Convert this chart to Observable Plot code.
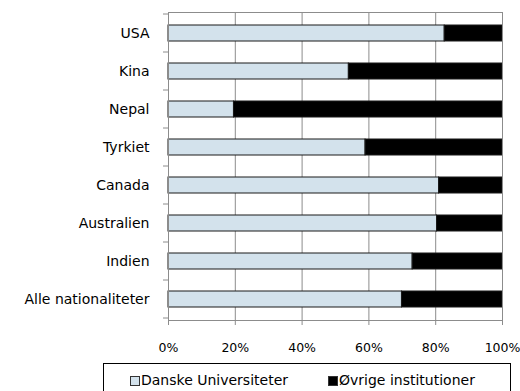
<!DOCTYPE html>
<html>
<head>
<meta charset="utf-8">
<script src="https://cdn.jsdelivr.net/npm/d3@7"></script>
<script src="https://cdn.jsdelivr.net/npm/@observablehq/plot@0.6"></script>
<style>
  body { margin: 0; background: #fff; font-family: "DejaVu Sans", sans-serif; }
  #wrap { position: relative; width: 520px; height: 391px; overflow: hidden; }
  #chart svg { display: block; }
  #legend { position: absolute; left: 103px; top: 363px; width: 408px; height: 40px;
            border: 1px solid #000; box-sizing: border-box; }
  #legend .sw { position: absolute; top: 12px; width: 8px; height: 8px; border: 1px solid #333; }
  #legend .lt { position: absolute; top: 8px; font-size: 14px; line-height: 16px; color: #000; white-space: nowrap; }
</style>
</head>
<body>
<div id="wrap">
  <div id="chart"></div>
  <div id="legend"></div>
</div>
<script>
const categories = ["USA", "Kina", "Nepal", "Tyrkiet", "Canada", "Australien", "Indien", "Alle nationaliteter"];
const danske = [82.7, 54, 19.6, 59, 81, 80.4, 73.1, 69.9];
const ovrige = [17.3, 46, 80.4, 41, 19, 19.6, 26.9, 30.1];
const seriesNames = ["Danske Universiteter", "Øvrige institutioner"];
const seriesColors = ["#D3E2EC", "#000000"];
const xTicks = [0, 20, 40, 60, 80, 100];

const rows = [];
categories.forEach((c, i) => {
  rows.push({cat: c, series: seriesNames[0], value: danske[i]});
  rows.push({cat: c, series: seriesNames[1], value: ovrige[i]});
});

const axisGray = "#8c8c8c";

function catTicks(index, scales, values, dims) {
  const y = scales.y;
  const n = categories.length;
  const top = dims.marginTop, bottom = dims.height - dims.marginBottom;
  const step = typeof y.step === "function" ? y.step() : (bottom - top) / n;
  const bw = typeof y.bandwidth === "function" ? y.bandwidth() : 0;
  const g = d3.create("svg:g").attr("stroke", axisGray).attr("stroke-width", 1);
  const ys = categories.map(c => y(c) + bw / 2 - step / 2);
  ys.push(y(categories[n - 1]) + bw / 2 + step / 2);
  for (const v of ys) {
    g.append("line")
      .attr("x1", dims.marginLeft - 5).attr("x2", dims.marginLeft)
      .attr("y1", v).attr("y2", v);
  }
  return g.node();
}

const plot = Plot.plot({
  width: 520,
  height: 360,
  marginTop: 12,
  marginLeft: 168,
  marginRight: 18,
  marginBottom: 40,
  x: {domain: [0, 100], label: null},
  y: {domain: categories, paddingInner: 0.585, paddingOuter: 0.2925, label: null},
  color: {domain: seriesNames, range: seriesColors},
  style: {fontFamily: "DejaVu Sans", fontSize: "14px", color: "#000", background: "transparent"},
  marks: [
    Plot.gridX(xTicks.slice(1), {stroke: axisGray, strokeOpacity: 1}),
    Plot.barX(rows, Plot.stackX({y: "cat", x: "value", fill: "series", stroke: "#1a1a1a", strokeWidth: 1})),
    Plot.frame({stroke: axisGray}),
    Plot.axisX(xTicks, {tickFormat: d => d + "%", tickSize: 5, tickPadding: 18, stroke: axisGray, fill: "#000", fontSize: 12.5, label: null}),
    Plot.axisY({tickSize: 0, tickPadding: 19, fill: "#000", label: null}),
    catTicks
  ]
});
document.getElementById("chart").appendChild(plot);

const legend = document.getElementById("legend");
const swLeft = [26, 224];
const txLeft = [37, 235];
seriesNames.forEach((name, i) => {
  const sw = document.createElement("span");
  sw.className = "sw";
  sw.style.left = swLeft[i] + "px";
  sw.style.background = seriesColors[i];
  legend.appendChild(sw);
  const t = document.createElement("span");
  t.className = "lt";
  t.style.left = txLeft[i] + "px";
  t.textContent = name;
  legend.appendChild(t);
});
</script>
</body>
</html>
